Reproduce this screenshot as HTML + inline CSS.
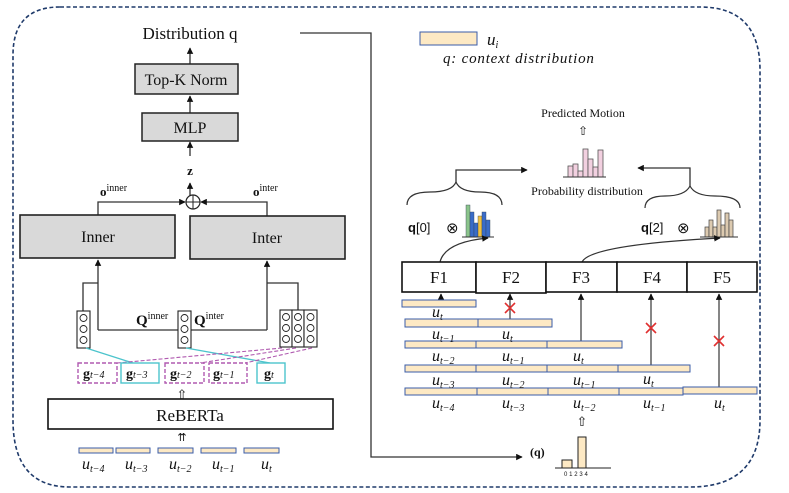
<!DOCTYPE html>
<html><head><meta charset="utf-8"><style>
body{margin:0;background:#fff}
svg{display:block}
text{font-family:"Liberation Serif",serif;fill:#111}
.s{font-family:"Liberation Sans",sans-serif}
</style></head><body>
<svg width="789" height="493" viewBox="0 0 789 493" xmlns="http://www.w3.org/2000/svg">
<defs>
<marker id="a" markerWidth="5" markerHeight="5" refX="4.5" refY="2.5" orient="auto"><path d="M0,0 L5,2.5 L0,5z" fill="#111"/></marker>
</defs>
<path d="M60,7 H700 Q760,7 760,70 V420 Q760,487 690,487 H70 Q13,487 13,420 V55 Q13,7 60,7 Z" fill="none" stroke="#1f3a6a" stroke-width="1.6" stroke-dasharray="4,2.5"/>

<text x="190" y="39" font-size="17" text-anchor="middle">Distribution q</text>
<line x1="190" y1="64" x2="190" y2="48" stroke="#333" stroke-width="1.3" marker-end="url(#a)"/>
<rect x="135" y="64" width="103" height="30" fill="#d9d9d9" stroke="#222" stroke-width="1.5"/>
<text x="186" y="85" font-size="16" text-anchor="middle">Top-K Norm</text>
<line x1="190" y1="113" x2="190" y2="96" stroke="#333" stroke-width="1.3" marker-end="url(#a)"/>
<rect x="142" y="113" width="96" height="28" fill="#d9d9d9" stroke="#222" stroke-width="1.5"/>
<text x="190" y="133" font-size="16" text-anchor="middle">MLP</text>
<line x1="190" y1="156" x2="190" y2="142" stroke="#333" stroke-width="1.3" marker-end="url(#a)"/>
<text x="190" y="175" font-size="13" font-weight="bold" text-anchor="middle">z</text>
<line x1="190" y1="196" x2="190" y2="183" stroke="#333" stroke-width="1.3" marker-end="url(#a)"/>
<circle cx="193" cy="202" r="7" fill="none" stroke="#222" stroke-width="1.2"/>
<line x1="186" y1="202" x2="200" y2="202" stroke="#222"/><line x1="193" y1="195" x2="193" y2="209" stroke="#222"/>
<path d="M98,215 V202 H185" fill="none" stroke="#333" stroke-width="1.3" marker-end="url(#a)"/>
<path d="M267,216 V202 H201" fill="none" stroke="#333" stroke-width="1.3" marker-end="url(#a)"/>
<text x="100" y="196" font-size="13" font-weight="bold">o<tspan font-size="10" font-weight="normal" dy="-5">inner</tspan></text>
<text x="253" y="196" font-size="13" font-weight="bold">o<tspan font-size="10" font-weight="normal" dy="-5">inter</tspan></text>
<rect x="20" y="215" width="155" height="43" fill="#d9d9d9" stroke="#222" stroke-width="1.6"/>
<text x="98" y="242" font-size="16" text-anchor="middle">Inner</text>
<rect x="190" y="216" width="155" height="43" fill="#d9d9d9" stroke="#222" stroke-width="1.6"/>
<text x="267" y="243" font-size="16" text-anchor="middle">Inter</text>
<path d="M98,330 V260" fill="none" stroke="#333" stroke-width="1.3" marker-end="url(#a)"/>
<path d="M98,330 H267" fill="none" stroke="#333" stroke-width="1.3"/>
<path d="M267,330 V261" fill="none" stroke="#333" stroke-width="1.3" marker-end="url(#a)"/>
<path d="M83,311 V283 H98" fill="none" stroke="#333" stroke-width="1.3"/>
<path d="M298,310 V283 H267" fill="none" stroke="#333" stroke-width="1.3"/>
<g fill="#fff" stroke="#222" stroke-width="1.1">
<rect x="77" y="311" width="13" height="37"/>
<rect x="178" y="311" width="13" height="37"/>
<rect x="280" y="310" width="12" height="37"/><rect x="292" y="310" width="12" height="37"/><rect x="304" y="310" width="13" height="37"/>
</g>
<g fill="none" stroke="#222" stroke-width="0.9">
<circle cx="83.5" cy="318" r="3.5"/><circle cx="83.5" cy="329" r="3.5"/><circle cx="83.5" cy="340" r="3.5"/>
<circle cx="184.5" cy="318" r="3.5"/><circle cx="184.5" cy="329" r="3.5"/><circle cx="184.5" cy="340" r="3.5"/>
<circle cx="286" cy="317" r="3.5"/><circle cx="286" cy="328" r="3.5"/><circle cx="286" cy="339" r="3.5"/>
<circle cx="298" cy="317" r="3.5"/><circle cx="298" cy="328" r="3.5"/><circle cx="298" cy="339" r="3.5"/>
<circle cx="310.5" cy="317" r="3.5"/><circle cx="310.5" cy="328" r="3.5"/><circle cx="310.5" cy="339" r="3.5"/>
</g>
<text x="136" y="325" font-size="15" font-weight="bold">Q<tspan font-size="10" font-weight="normal" dy="-6">inner</tspan></text>
<text x="194" y="325" font-size="15" font-weight="bold">Q<tspan font-size="10" font-weight="normal" dy="-6">inter</tspan></text>
<line x1="86" y1="348" x2="133" y2="363" stroke="#4cc4cc" stroke-width="1.3"/>
<line x1="186" y1="348" x2="270" y2="363" stroke="#4cc4cc" stroke-width="1.3"/>
<g stroke="#b05ab0" stroke-width="1.1" stroke-dasharray="4,2">
<line x1="282" y1="348" x2="117" y2="363"/>
<line x1="296" y1="348" x2="200" y2="363"/>
<line x1="312" y1="348" x2="245" y2="363"/>
</g>
<g fill="#fff" stroke-width="1.4">
<rect x="78" y="363" width="39" height="20" stroke="#b05ab0" stroke-dasharray="4,2"/>
<rect x="121" y="363" width="38" height="20" stroke="#4cc4cc"/>
<rect x="165" y="363" width="39" height="20" stroke="#b05ab0" stroke-dasharray="4,2"/>
<rect x="209" y="363" width="38" height="20" stroke="#b05ab0" stroke-dasharray="4,2"/>
<rect x="257" y="363" width="28" height="20" stroke="#4cc4cc"/>
</g>
<g font-size="14" font-weight="bold" fill="#333">
<text x="83" y="378">g<tspan font-size="10" font-weight="normal" font-style="italic">t−4</tspan></text>
<text x="126" y="378">g<tspan font-size="10" font-weight="normal" font-style="italic">t−3</tspan></text>
<text x="170" y="378">g<tspan font-size="10" font-weight="normal" font-style="italic">t−2</tspan></text>
<text x="213" y="378">g<tspan font-size="10" font-weight="normal" font-style="italic">t−1</tspan></text>
<text x="264" y="378">g<tspan font-size="10" font-weight="normal" font-style="italic">t</tspan></text>
</g>
<text x="182" y="399" font-size="13" text-anchor="middle">⇧</text>
<rect x="48" y="399" width="285" height="30" fill="#fff" stroke="#111" stroke-width="1.6"/>
<text x="190" y="421" font-size="17" text-anchor="middle">ReBERTa</text>
<text x="182" y="441" font-size="11" text-anchor="middle">⇈</text>
<g fill="#fde9c4" stroke="#3a5ca8" stroke-width="1">
<rect x="79" y="448" width="34" height="5"/><rect x="116" y="448" width="34" height="5"/><rect x="158" y="448" width="35" height="5"/><rect x="201" y="448" width="35" height="5"/><rect x="244" y="448" width="35" height="5"/>
</g>
<g font-size="16" font-style="italic" fill="#444">
<text x="82" y="469">u<tspan font-size="10" dy="3">t−4</tspan></text>
<text x="125" y="469">u<tspan font-size="10" dy="3">t−3</tspan></text>
<text x="169" y="469">u<tspan font-size="10" dy="3">t−2</tspan></text>
<text x="212" y="469">u<tspan font-size="10" dy="3">t−1</tspan></text>
<text x="261" y="469">u<tspan font-size="10" dy="3">t</tspan></text>
</g>
<path d="M300,33 H371 V457 H522" fill="none" stroke="#333" stroke-width="1.3" marker-end="url(#a)"/>
<text x="530" y="456" font-size="12" font-weight="bold">(q)</text>

<rect x="420" y="32" width="57" height="13" fill="#fde9c4" stroke="#3a5ca8"/>
<text x="487" y="45" font-size="17" font-style="italic">u<tspan font-size="10" dy="3">i</tspan></text>
<text x="443" y="63" font-size="15" font-style="italic" letter-spacing="0.8">q: context distribution</text>

<text x="583" y="117" font-size="12" text-anchor="middle">Predicted Motion</text>
<text x="583" y="135" font-size="12" text-anchor="middle">⇧</text>
<g fill="#f2d0e0" stroke="#555" stroke-width="0.8">
<rect x="568" y="166" width="5" height="11"/><rect x="573" y="164" width="5" height="13"/><rect x="578" y="171" width="5" height="6"/><rect x="583" y="149" width="5" height="28"/><rect x="588" y="159" width="5" height="18"/><rect x="593" y="167" width="5" height="10"/><rect x="598" y="150" width="5" height="27"/>
</g>
<line x1="563" y1="177" x2="606" y2="177" stroke="#333"/>
<text x="587" y="195" font-size="12" text-anchor="middle">Probability distribution</text>
<path d="M407,205 Q407,192 430,192 Q452,192 456,182 Q460,192 480,192 Q502,192 502,205" fill="none" stroke="#333" stroke-width="1.2"/>
<path d="M456,182 V170 H527" fill="none" stroke="#333" stroke-width="1.3" marker-end="url(#a)"/>
<path d="M645,208 Q645,196 665,196 Q685,196 690,186 Q695,196 715,196 Q740,196 740,208" fill="none" stroke="#333" stroke-width="1.2"/>
<path d="M690,186 V168 H638" fill="none" stroke="#333" stroke-width="1.3" marker-end="url(#a)"/>
<text x="408" y="232" font-size="13" class="s"><tspan font-weight="bold">q</tspan>[0]</text>
<text x="446" y="233" font-size="15" class="s">⊗</text>
<g stroke="#345" stroke-width="0.4">
<rect x="466" y="205" width="4" height="32" fill="#8bc48b"/><rect x="470" y="212" width="4" height="25" fill="#3a6cc8"/><rect x="474" y="223" width="4" height="14" fill="#3a6cc8"/><rect x="478" y="216" width="4" height="21" fill="#f0c040"/><rect x="482" y="212" width="4" height="25" fill="#3a6cc8"/><rect x="486" y="220" width="4" height="17" fill="#3a6cc8"/>
</g>
<line x1="462" y1="237" x2="494" y2="237" stroke="#333"/>
<text x="641" y="232" font-size="13" class="s"><tspan font-weight="bold">q</tspan>[2]</text>
<text x="677" y="233" font-size="15" class="s">⊗</text>
<g fill="#dccab0" stroke="#444" stroke-width="0.7">
<rect x="705" y="227" width="4" height="10"/><rect x="709" y="220" width="4" height="17"/><rect x="713" y="227" width="4" height="10"/><rect x="717" y="210" width="4" height="27"/><rect x="721" y="225" width="4" height="12"/><rect x="725" y="213" width="4" height="24"/><rect x="729" y="220" width="4" height="17"/>
</g>
<line x1="700" y1="237" x2="738" y2="237" stroke="#333"/>
<path d="M440,262 Q445,242 488,238" fill="none" stroke="#333" stroke-width="1.3" marker-end="url(#a)"/>
<path d="M582,262 Q590,245 720,238" fill="none" stroke="#333" stroke-width="1.3" marker-end="url(#a)"/>

<g fill="#fff" stroke="#111" stroke-width="1.6">
<rect x="402" y="262" width="74" height="30"/><rect x="476" y="262" width="70" height="31"/><rect x="546" y="262" width="71" height="30"/><rect x="617" y="262" width="70" height="30"/><rect x="687" y="262" width="70" height="30"/>
</g>
<g font-size="17" text-anchor="middle">
<text x="439" y="283">F1</text><text x="511" y="283">F2</text><text x="581" y="283">F3</text><text x="652" y="283">F4</text><text x="722" y="283">F5</text>
</g>
<g stroke="#444" stroke-width="1.3" fill="none">
<line x1="441" y1="300" x2="441" y2="294" marker-end="url(#a)"/>
<line x1="510" y1="319" x2="510" y2="294" marker-end="url(#a)"/>
<line x1="581" y1="341" x2="581" y2="294" marker-end="url(#a)"/>
<line x1="651" y1="365" x2="651" y2="294" marker-end="url(#a)"/>
<line x1="719" y1="387" x2="719" y2="294" marker-end="url(#a)"/>
</g>
<g stroke="#e03030" stroke-width="1.6">
<path d="M505,303 l10,10 M515,303 l-10,10"/>
<path d="M646,323 l10,10 M656,323 l-10,10"/>
<path d="M714,336 l10,10 M724,336 l-10,10"/>
</g>
<g fill="#fde9c4" stroke="#3a5ca8" stroke-width="1">
<rect x="402" y="300" width="74" height="7"/>
<rect x="405" y="319" width="73" height="8"/><rect x="478" y="319" width="74" height="8"/>
<rect x="405" y="341" width="71" height="7"/><rect x="476" y="341" width="71" height="7"/><rect x="547" y="341" width="75" height="7"/>
<rect x="405" y="365" width="71" height="7"/><rect x="476" y="365" width="71" height="7"/><rect x="547" y="365" width="71" height="7"/><rect x="618" y="365" width="72" height="7"/>
<rect x="405" y="388" width="72" height="7"/><rect x="477" y="388" width="71" height="7"/><rect x="548" y="388" width="71" height="7"/><rect x="619" y="388" width="64" height="7"/><rect x="683" y="387" width="74" height="7"/>
</g>
<g font-size="16" font-style="italic" fill="#555">
<text x="432" y="317">u<tspan font-size="10" dy="3">t</tspan></text>
<text x="432" y="339">u<tspan font-size="10" dy="3">t−1</tspan></text>
<text x="502" y="339">u<tspan font-size="10" dy="3">t</tspan></text>
<text x="432" y="361">u<tspan font-size="10" dy="3">t−2</tspan></text>
<text x="502" y="361">u<tspan font-size="10" dy="3">t−1</tspan></text>
<text x="573" y="361">u<tspan font-size="10" dy="3">t</tspan></text>
<text x="432" y="385">u<tspan font-size="10" dy="3">t−3</tspan></text>
<text x="502" y="385">u<tspan font-size="10" dy="3">t−2</tspan></text>
<text x="573" y="385">u<tspan font-size="10" dy="3">t−1</tspan></text>
<text x="643" y="384">u<tspan font-size="10" dy="3">t</tspan></text>
<text x="432" y="408">u<tspan font-size="10" dy="3">t−4</tspan></text>
<text x="502" y="408">u<tspan font-size="10" dy="3">t−3</tspan></text>
<text x="573" y="408">u<tspan font-size="10" dy="3">t−2</tspan></text>
<text x="643" y="408">u<tspan font-size="10" dy="3">t−1</tspan></text>
<text x="714" y="408">u<tspan font-size="10" dy="3">t</tspan></text>
</g>
<text x="582" y="426" font-size="13" text-anchor="middle">⇧</text>
<g fill="#fde9c4" stroke="#222" stroke-width="1">
<rect x="562" y="460" width="10" height="8"/><rect x="578" y="437" width="8" height="31"/>
</g>
<line x1="555" y1="468" x2="611" y2="468" stroke="#222"/>
<text x="564" y="476" font-size="6" class="s" fill="#444" letter-spacing="1.8">01234</text>
</svg>
</body></html>
